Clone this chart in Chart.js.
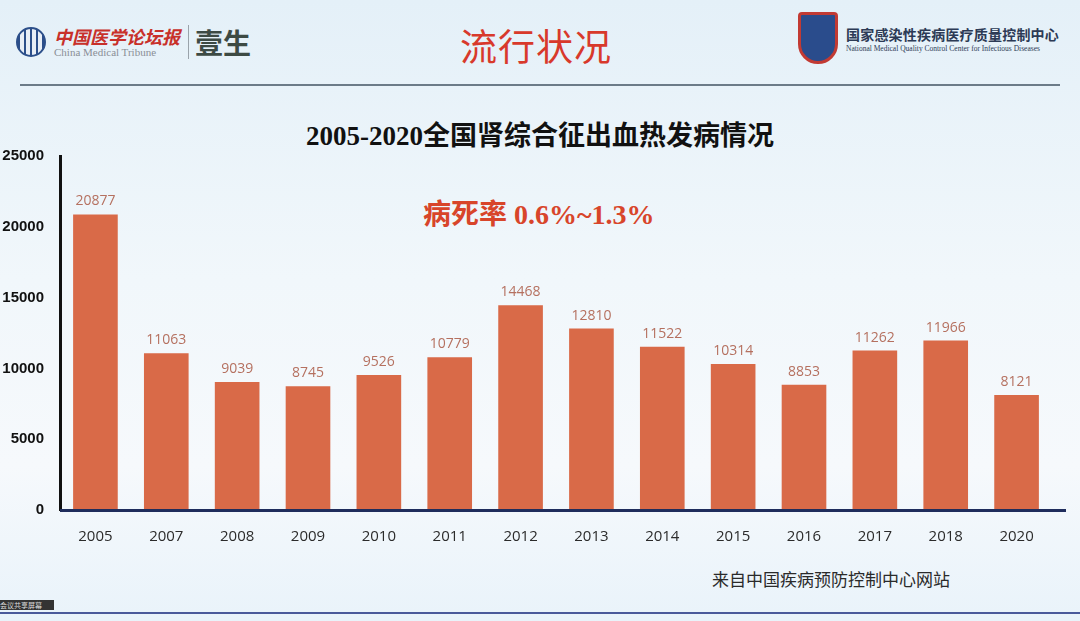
<!DOCTYPE html>
<html lang="zh">
<head>
    <meta charset="UTF-8">
    <title>流行状况</title>
    <script src="https://cdn.jsdelivr.net/npm/chart.js@4/dist/chart.umd.min.js"></script>
    <style>
        * {
            margin: 0;
            padding: 0;
            box-sizing: border-box;
        }

        body {
            width: 1080px;
            height: 621px;
            overflow: hidden;
            position: relative;
            background: linear-gradient(180deg, #e4f0f8 0%, #f1f7fb 45%, #f6f9fc 75%, #e9f3fa 100%);
            font-family: 'Noto Sans CJK SC', 'Noto Sans', sans-serif;
        }

        .header-title {
            position: absolute;
            left: 0;
            width: 1072px;
            top: 18px;
            text-align: center;
            color: #d8392b;
            font-size: 37px;
            letter-spacing: 1px;
        }

        .rule {
            position: absolute;
            left: 20px;
            width: 1040px;
            top: 84px;
            height: 2px;
            background: #6c7b88;
        }

        .logo-left {
            position: absolute;
            left: 16px;
            top: 22px;
            display: flex;
            align-items: center;
        }

        .globe {
            width: 30px;
            height: 30px;
            border-radius: 50%;
            border: 2px solid #2c4f8a;
            background: repeating-linear-gradient(90deg, #2c4f8a 0 2px, #e8eef6 2px 6px);
            margin-right: 8px;
        }

        .mt-cn {
            color: #c8302a;
            font-family: 'Noto Sans CJK SC', serif;
            font-size: 18px;
            font-weight: bold;
            line-height: 20px;
            font-style: italic;
        }

        .mt-en {
            color: #8a8f96;
            font-family: 'Liberation Serif', serif;
            font-size: 11px;
        }

        .divider {
            width: 1px;
            height: 34px;
            background: #9aa3ab;
            margin: 0 6px 0 8px;
        }

        .yisheng {
            font-family: 'Noto Sans CJK SC', serif;
            font-size: 28px;
            font-weight: bold;
            color: #3d4a44;
        }

        .logo-right {
            position: absolute;
            left: 798px;
            top: 12px;
            display: flex;
            align-items: center;
        }

        .shield {
            width: 40px;
            height: 52px;
            background: #2a4c8c;
            border: 3px solid #c23a33;
            border-radius: 4px 4px 20px 20px;
            margin-right: 8px;
        }

        .nc-cn {
            font-family: 'Noto Sans CJK SC', serif;
            font-size: 14px;
            color: #2c3a55;
            font-weight: bold;
            letter-spacing: 0.2px;
        }

        .nc-en {
            font-family: 'Liberation Serif', serif;
            font-size: 7.5px;
            color: #2c3a55;
        }

        .chart-title {
            position: absolute;
            left: 0;
            width: 1080px;
            top: 114px;
            text-align: center;
            font-size: 27px;
            font-weight: bold;
            color: #111;
            font-family: 'Liberation Serif', 'Noto Sans CJK SC', serif;
        }

        .chart-title .cn {
            font-family: 'Noto Sans CJK SC', sans-serif;
        }

        .rate {
            position: absolute;
            left: 423px;
            top: 192px;
            color: #d8452a;
            font-size: 28px;
            font-weight: bold;
            font-family: 'Liberation Serif', serif;
        }

        .rate .cn {
            font-family: 'Noto Sans CJK SC', sans-serif;
        }

        .source {
            position: absolute;
            left: 712px;
            top: 566px;
            font-size: 17px;
            color: #2a2a2a;
        }

        .tag {
            position: absolute;
            left: 0;
            top: 600px;
            width: 54px;
            height: 10px;
            background: #333;
            color: #ddd;
            font-size: 7px;
            line-height: 10px;
        }

        .bottom-rule {
            position: absolute;
            left: 0;
            width: 1080px;
            top: 612px;
            height: 2px;
            background: #4a5a9a;
        }

        .chart-box {
            position: absolute;
            left: 0;
            top: 139px;
            width: 1066px;
            height: 417px;
        }
    </style>
</head>
<body>
    <div class="logo-left">
        <div class="globe"></div>
        <div>
            <div class="mt-cn">中国医学论坛报</div>
            <div class="mt-en">China Medical Tribune</div>
        </div>
        <div class="divider"></div>
        <div class="yisheng">壹生</div>
    </div>

    <div class="header-title">流行状况</div>

    <div class="logo-right">
        <div class="shield"></div>
        <div>
            <div class="nc-cn">国家感染性疾病医疗质量控制中心</div>
            <div class="nc-en">National Medical Quality Control Center for Infectious Diseases</div>
        </div>
    </div>

    <div class="rule"></div>

    <div class="chart-title">2005-2020<span class="cn">全国肾综合征出血热发病情况</span></div>
    <div class="rate"><span class="cn">病死率</span> 0.6%~1.3%</div>

    <div class="chart-box">
        <canvas id="hfrsChart"></canvas>
    </div>

    <div class="source">来自中国疾病预防控制中心网站</div>
    <div class="tag">会议共享屏幕</div>
    <div class="bottom-rule"></div>

    <script>
        const years = ['2005', '2007', '2008', '2009', '2010', '2011', '2012', '2013', '2014', '2015', '2016', '2017', '2018', '2020'];
        const cases = [20877, 11063, 9039, 8745, 9526, 10779, 14468, 12810, 11522, 10314, 8853, 11262, 11966, 8121];
        const yTicks = [0, 5000, 10000, 15000, 20000, 25000];

        // value labels above each bar, plus the baseline running a bit past the last bar
        const barLabels = {
            id: 'barLabels',
            afterDatasetsDraw(chart) {
                const ctx = chart.ctx;
                const meta = chart.getDatasetMeta(0);
                const area = chart.chartArea;
                const y0 = chart.scales.y.getPixelForValue(0);
                ctx.save();
                ctx.strokeStyle = '#1f2d5c';
                ctx.lineWidth = 3;
                ctx.beginPath();
                ctx.moveTo(area.left, y0 + 0.5);
                ctx.lineTo(area.right + 14, y0 + 0.5);
                ctx.stroke();

                ctx.fillStyle = '#b5705f';
                ctx.font = '14px "Open Sans", "Liberation Sans", sans-serif';
                ctx.textAlign = 'center';
                ctx.textBaseline = 'bottom';
                meta.data.forEach((bar, i) => {
                    ctx.fillText(cases[i], bar.x, bar.y - 6);
                });
                ctx.restore();
            }
        };

        new Chart(document.getElementById('hfrsChart'), {
            type: 'bar',
            data: {
                labels: years,
                datasets: [{
                    data: cases,
                    backgroundColor: '#d96a48',
                    barPercentage: 0.63,
                    categoryPercentage: 1.0
                }]
            },
            options: {
                responsive: true,
                maintainAspectRatio: false,
                animation: false,
                layout: {
                    padding: { left: 0, top: 6, right: 14, bottom: 0 }
                },
                plugins: {
                    legend: { display: false },
                    tooltip: { enabled: false }
                },
                scales: {
                    x: {
                        grid: { display: false },
                        border: { display: false },
                        ticks: {
                            color: '#2b2b2b',
                            padding: 10,
                            font: { size: 15, family: '"Open Sans", "Liberation Sans", sans-serif' }
                        }
                    },
                    y: {
                        min: 0,
                        max: 25000,
                        afterBuildTicks(axis) {
                            axis.ticks = yTicks.map(v => ({ value: v }));
                        },
                        afterFit(axis) {
                            axis.width = 60;
                        },
                        grid: { display: false },
                        border: { color: '#111', width: 3 },
                        ticks: {
                            color: '#111',
                            padding: 8,
                            callback: v => String(v),
                            font: { size: 15, weight: 'bold', family: '"Liberation Sans", sans-serif' }
                        }
                    }
                }
            },
            plugins: [barLabels]
        });
    </script>
</body>
</html>
